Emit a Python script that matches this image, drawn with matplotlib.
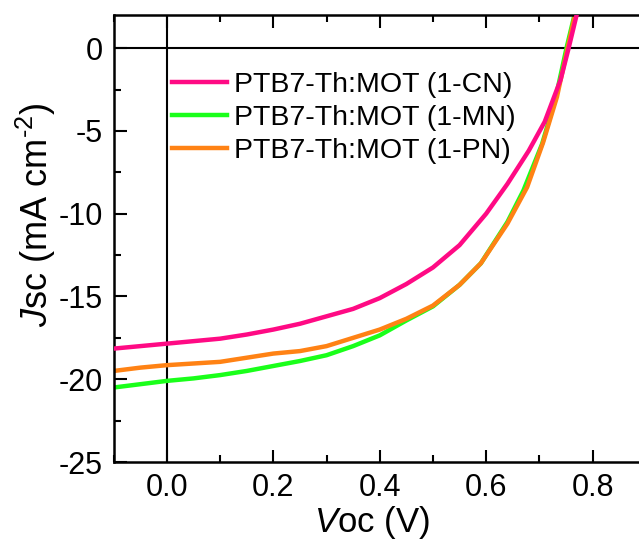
import numpy as np
import matplotlib
matplotlib.use('Agg')
import matplotlib.pyplot as plt
from matplotlib.ticker import MultipleLocator

plt.rcParams['font.family'] = 'Liberation Sans'
plt.rcParams['mathtext.fontset'] = 'custom'
plt.rcParams['mathtext.rm'] = 'Liberation Sans'
plt.rcParams['mathtext.it'] = 'Liberation Sans:italic'
plt.rcParams['axes.unicode_minus'] = False

# J-V curves
v_cn = [-0.1, -0.05, 0.0, 0.05, 0.1, 0.15, 0.2, 0.25, 0.3, 0.35, 0.4, 0.45, 0.5, 0.55, 0.6, 0.64, 0.68, 0.71, 0.74, 0.755, 0.77]
j_cn = [-18.15, -18.0, -17.85, -17.7, -17.55, -17.3, -17.0, -16.65, -16.2, -15.75, -15.1, -14.25, -13.25, -11.9, -10.0, -8.2, -6.2, -4.45, -1.9, 0.0, 2.0]

v_mn = [-0.1, -0.05, 0.0, 0.05, 0.1, 0.15, 0.2, 0.25, 0.3, 0.35, 0.4, 0.45, 0.5, 0.55, 0.59, 0.64, 0.67, 0.705, 0.73, 0.751, 0.766]
j_mn = [-20.5, -20.3, -20.1, -19.95, -19.75, -19.5, -19.2, -18.9, -18.55, -18.0, -17.35, -16.45, -15.6, -14.3, -13.0, -10.5, -8.6, -5.8, -3.1, 0.0, 2.0]

v_pn = [-0.1, -0.05, 0.0, 0.05, 0.1, 0.15, 0.2, 0.25, 0.3, 0.35, 0.4, 0.45, 0.5, 0.55, 0.59, 0.64, 0.677, 0.707, 0.733, 0.753, 0.767]
j_pn = [-19.5, -19.3, -19.15, -19.05, -18.95, -18.7, -18.45, -18.3, -18.0, -17.5, -17.0, -16.35, -15.55, -14.3, -13.0, -10.6, -8.4, -5.7, -2.95, 0.0, 2.0]

labels = ['PTB7-Th:MOT (1-CN)', 'PTB7-Th:MOT (1-MN)', 'PTB7-Th:MOT (1-PN)']
colors = ['#ff0a84', '#1aff1a', '#ff8214']

fig = plt.figure(figsize=(6.39, 5.42), dpi=100)
ax = fig.add_axes([0.178, 0.1476, 0.8326, 0.8247])

ax.axhline(0, color='black', lw=1.5, zorder=1)
ax.axvline(0, color='black', lw=1.5, zorder=1)

ax.plot(v_cn, j_cn, color=colors[0], lw=3.2, label=labels[0], zorder=3)
ax.plot(v_mn, j_mn, color=colors[1], lw=3.2, label=labels[1], zorder=2)
ax.plot(v_pn, j_pn, color=colors[2], lw=3.2, label=labels[2], zorder=2.5)

ax.set_xlim(-0.1, 0.9)
ax.set_ylim(-25, 2)
ax.xaxis.set_minor_locator(MultipleLocator(0.1))
ax.yaxis.set_major_locator(MultipleLocator(5))
ax.yaxis.set_minor_locator(MultipleLocator(2.5))
ax.set_xticks([0.0, 0.2, 0.4, 0.6, 0.8])
ax.set_xticklabels(['0.0', '0.2', '0.4', '0.6', '0.8'])

ax.tick_params(which='both', direction='in', top=True, right=False, width=1.5, labelsize=22)
ax.tick_params(which='major', length=9, pad=8)
ax.tick_params(which='minor', length=5)
for s in ['left', 'bottom', 'top']:
    ax.spines[s].set_linewidth(1.8)
ax.spines['right'].set_visible(False)

ax.set_xlabel(r'$\mathit{V}$oc (V)', fontsize=25)
ax.xaxis.set_label_coords(0.485, -0.095)
ax.set_ylabel(r'$\mathit{J}$sc (mA cm$^{\text{-2}}$)', fontsize=26)
ax.yaxis.set_label_coords(-0.105, 0.553)

ax.legend(loc='upper left', bbox_to_anchor=(0.088, 0.898), frameon=False, fontsize=20.5,
          handlelength=1.93, handletextpad=0.25, labelspacing=0.24, borderaxespad=0)

fig.savefig('out.png', dpi=100)
